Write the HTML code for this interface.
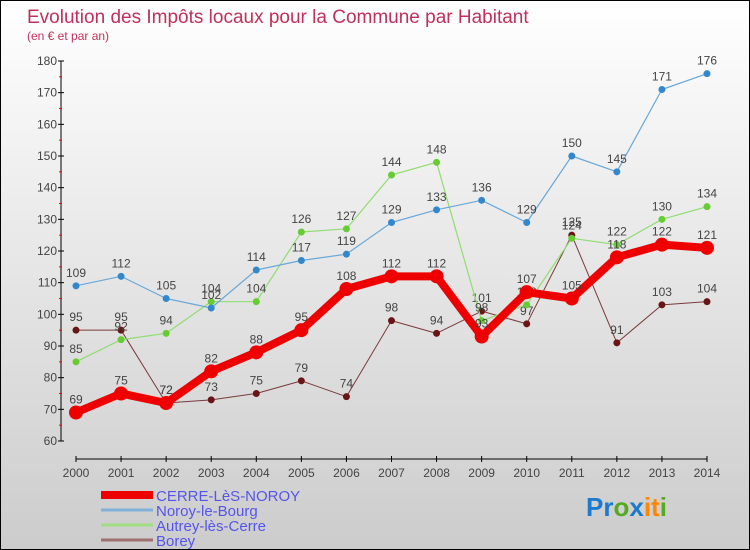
<!DOCTYPE html>
<html><head><meta charset="utf-8"><style>
body{margin:0}
#c{position:relative;width:750px;height:550px;box-sizing:border-box;border:1px solid #000;background:linear-gradient(#fff,#ccc);font-family:"Liberation Sans",sans-serif;overflow:hidden}
svg text{font-family:"Liberation Sans",sans-serif}
</style></head><body>
<div id="c">
<svg id="s" width="750" height="550">
<text x="26" y="22" font-size="19" fill="#c0305a">Evolution des Impôts locaux pour la Commune par Habitant</text>
<text x="26" y="39" font-size="12" fill="#c0305a">(en € et par an)</text>
<text x="585" y="515" font-size="26" font-weight="bold"><tspan fill="#1a7ad0">Pr</tspan><tspan fill="#5a2">o</tspan><tspan fill="#1a7ad0">x</tspan><tspan fill="#f80">it</tspan><tspan fill="#5a2">i</tspan></text>
</svg>
<script>
const years=[2000,2001,2002,2003,2004,2005,2006,2007,2008,2009,2010,2011,2012,2013,2014];
const yTicks=[60,70,80,90,100,110,120,130,140,150,160,170,180];
const cerre=[69,75,72,82,88,95,108,112,112,93,107,105,118,122,121];
const noroy=[109,112,105,102,114,117,119,129,133,136,129,150,145,171,176];
const autrey=[85,92,94,104,104,126,127,144,148,98,103,124,122,130,134];
const borey=[95,95,72,73,75,79,74,98,94,101,97,125,91,103,104];
const seriesNames=["CERRE-LèS-NOROY","Noroy-le-Bourg","Autrey-lès-Cerre","Borey"];
const NS="http://www.w3.org/2000/svg",s=document.getElementById('s');
const X=i=>75+i*(706-75)/(years.length-1);
const Y=v=>440-(v-60)*380/120;
function mk(t,a,p){const e=document.createElementNS(NS,t);for(const k in a)e.setAttribute(k,a[k]);(p||s).appendChild(e);return e;}
// axes
let ya=mk('line',{x1:60,y1:60,x2:60,y2:440,stroke:'#000'});


let xa=mk('line',{x1:75,y1:458,x2:706,y2:458,stroke:'#000'});


yTicks.forEach((v,i)=>{
 mk('line',{x1:57,y1:Y(v),x2:63,y2:Y(v),stroke:'#000'});
 if(i<yTicks.length-1) mk('line',{x1:58,y1:Y(v+5),x2:61,y2:Y(v+5),stroke:'#f00'});
 const t=mk('text',{x:56,y:Y(v)+4,'font-size':12,fill:'#444','text-anchor':'end'});
 t.textContent=v;
 
 
});
years.forEach((y,i)=>{
 mk('line',{x1:X(i),y1:455,x2:X(i),y2:461,stroke:'#000'});
 const t=mk('text',{x:X(i),y:476,'font-size':12,fill:'#444','text-anchor':'middle'});
 t.textContent=y;
 
 
});
function series(d,col,dot,w,r,name){
 const g=mk('g',{});
 
 
 mk('polyline',{points:d.map((v,i)=>X(i)+','+Y(v)).join(' '),fill:'none',stroke:col,'stroke-width':w,'stroke-linejoin':'round'},g);
 d.forEach((v,i)=>{
  const c=mk('circle',{cx:X(i),cy:Y(v),r:r,fill:dot},g);
  
  
  const t=mk('text',{x:X(i),y:Y(v)-9,'font-size':12,fill:'#444','text-anchor':'middle'},g);
  t.textContent=v;
 });
}
series(borey,'#7a3a3a','#6a1515',1,3.5,'series-borey');
series(autrey,'#90dd70','#66cc33',1.2,3.5,'series-autrey');
series(noroy,'#6aa8d8','#3388cc',1.2,3.5,'series-noroy');
series(cerre,'#ee0000','#ee0000',8,7,'series-cerre');
const cols=['#ee0000','#7fb0d8','#a0dd80','#a07070'],ws=[8,3,3,3];
seriesNames.forEach((n,i)=>{
 const yy=494+i*15;
 const l=mk('line',{x1:100,y1:yy,x2:152,y2:yy,stroke:cols[i],'stroke-width':ws[i]});
 
 
 const t=mk('text',{x:155,y:yy+6,'font-size':15,fill:'#5555ee'});
 t.textContent=n;
 
 
});
</script>
</div>
</body></html>
